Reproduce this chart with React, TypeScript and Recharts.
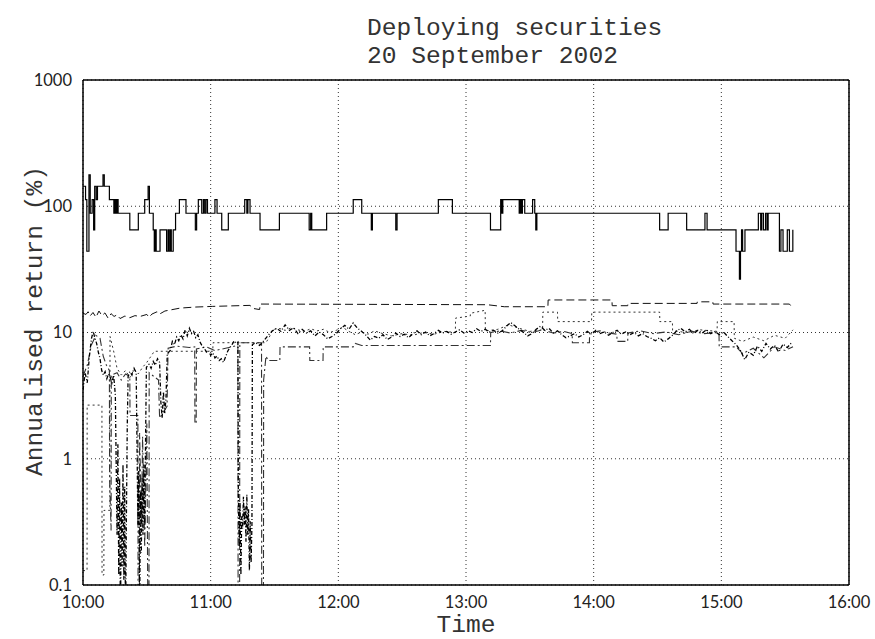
import { LineChart, Line, XAxis, YAxis, CartesianGrid } from "recharts";

// time is minutes after 10:00, values are annualised return in %
const hourTicks = [0, 60, 120, 180, 240, 300, 360];
const hourLabels = ["10:00", "11:00", "12:00", "13:00", "14:00", "15:00", "16:00"];
const halfHourTicks = [30, 90, 150, 210, 270, 330];
const decadeTicks = [0.1, 1, 10, 100, 1000];
const decadeLabels = ["0.1", "1", "10", "100", "1000"];
const minorTicks = [
  0.2, 0.3, 0.4, 0.5, 0.6, 0.7, 0.8, 0.9,
  2, 3, 4, 5, 6, 7, 8, 9,
  20, 30, 40, 50, 60, 70, 80, 90,
  200, 300, 400, 500, 600, 700, 800, 900,
];

const solidPts: [number, number][] = [
  [0, 144], [1.2, 113], [1.8, 44], [2.8, 177], [3.4, 88], [4.3, 113], [5, 65], [5.5, 144],
  [6.2, 113], [6.8, 144], [9.4, 177], [10, 144], [12.4, 113], [14.5, 88], [15, 113], [15.5, 88],
  [16, 113], [16.5, 88], [22, 65], [26, 88], [29, 113], [30.6, 144], [31.2, 88], [33, 65],
  [33.5, 44], [34, 65], [34.4, 44], [36.2, 65], [39.3, 44], [40, 65], [40.4, 44], [41, 65],
  [41.5, 44], [42.4, 65], [43.5, 88], [45.3, 113], [48.4, 88], [52.8, 65], [53.4, 88], [54.2, 113],
  [55.8, 88], [56.6, 113], [57.2, 88], [57.8, 113], [58.5, 88], [62, 113], [63, 88], [65.2, 65],
  [68.3, 88], [76, 113], [77, 88], [77.5, 113], [78.5, 88], [83.2, 65], [92.3, 88], [106.3, 65],
  [107, 88], [107.5, 65], [114.5, 88], [127, 113], [131, 88], [135.5, 65], [136, 88], [147, 65],
  [147.6, 88], [167, 113], [173.6, 88], [191.5, 65], [196.3, 113], [196.8, 88], [197.3, 113], [205, 88],
  [205.5, 113], [206, 88], [206.5, 113], [207.6, 88], [211.3, 113], [212.3, 88], [212.8, 65], [213.3, 88],
  [271, 65], [275, 88], [283.7, 65], [292.3, 88], [293.3, 65], [306.9, 44], [308.5, 26.5], [309, 44],
  [309.5, 65], [310, 44], [311.1, 65], [317.4, 88], [318.5, 65], [319, 88], [319.8, 65], [320.8, 88],
  [321.5, 65], [322, 88], [327.3, 44], [328, 65], [329, 44], [331, 65], [332, 44], [333.6, 65],
];

const longDashPts: [number, number][] = [
  [0, 14.2], [1.4, 13.9], [2.4, 14.6], [3.3, 13.5], [4.7, 14.4], [6.1, 13.2], [7.5, 14.8], [8.9, 13.6],
  [10.3, 14.3], [11.8, 13.0], [13.2, 14.1], [14.6, 13.4], [16, 13.8], [17.4, 12.9], [19.7, 13.5], [22, 13.1],
  [24.4, 13.6], [26.8, 13.4], [30, 13.9], [31, 13.2], [32.4, 14.0], [34.8, 14.6], [36, 14.0], [38.5, 14.8],
  [45.6, 15.6], [52.6, 15.9], [61, 16.1], [78.5, 16.4], [80, 15.5], [83, 15.2], [83.3, 16.8], [190, 16.6],
  [198, 16.0], [218.5, 16.0], [218.6, 18.1], [248.6, 18.1], [248.7, 16.3], [256, 16.3], [256.1, 17.0], [288.6, 17.0],
  [288.7, 17.5], [296, 17.5], [296.1, 16.8], [332, 16.8], [333.7, 15.5],
];

const noisyPts: [number, number][] = [
  [0, 3.5], [1, 4.8], [2, 4.0], [3, 6.5], [4, 9.0], [4.8, 10.2], [5.6, 9.0], [6.4, 8.2],
  [7.2, 7.0], [8, 6.2], [8.8, 5.0], [9.6, 4.6], [10.4, 4.9], [11.2, 4.3], [12, 4.7], [12.8, 4.4],
  [13.6, 4.0], [14.4, 4.6], [15.2, 3.2], [15.6, 0.9], [16, 0.25], [16.4, 1.3], [16.8, 0.12], [17.2, 0.7],
  [17.6, 0.05], [18, 0.45], [18.4, 0.14], [18.8, 0.9], [19.2, 0.11], [19.6, 0.6], [20, 0.05], [20.4, 0.35],
  [20.8, 1.8], [21.2, 4.5], [22, 4.9], [23, 4.6], [24, 5.2], [25, 4.8], [25.4, 1.2], [25.8, 0.3],
  [26.2, 0.8], [26.6, 0.05], [27, 0.55], [27.4, 0.18], [27.8, 0.7], [28.2, 0.25], [28.6, 0.9], [29, 0.3],
  [29.4, 1.4], [29.8, 5.3], [31, 5.6], [32, 5.2], [33, 5.9], [34, 5.5], [35, 6.2], [36, 5.8],
  [36.6, 2.8], [37.2, 2.1], [37.8, 3.4], [38.4, 2.3], [39, 3.0], [39.6, 6.8], [41, 7.2], [42, 8.5],
  [43, 8.0], [44, 9.2], [45, 8.6], [46, 9.6], [47, 8.9], [48, 10.5], [49, 9.4], [50, 10.8],
  [51, 9.8], [52, 10.2], [53, 9.1], [54, 9.6], [55, 8.4], [56, 7.8], [57, 7.5], [58, 7.0],
  [59, 7.2], [60, 6.6], [61, 6.9], [62, 6.3], [63, 6.5], [64, 6.0], [65, 6.2], [66, 5.8],
  [67, 6.4], [68, 7.1], [69, 7.6], [70, 8.0], [71, 8.6], [72, 8.2], [72.8, 8.4], [73, 0.55],
  [73.4, 0.2], [73.8, 0.45], [74.2, 0.12], [74.6, 0.35], [75, 0.28], [75.4, 0.5], [75.8, 0.3], [76.2, 0.42],
  [76.6, 0.22], [77, 0.52], [77.4, 0.25], [77.8, 0.4], [78.2, 0.13], [78.6, 0.32], [79, 0.15], [79.4, 0.3],
  [79.6, 8.0], [81, 8.3], [83, 7.9], [85, 8.6], [87, 9.5], [89, 10.3], [91, 10.8], [93, 10.2],
  [95, 11.5], [97, 10.4], [99, 10.9], [101, 9.8], [103, 10.6], [105, 9.9], [107, 10.3], [109, 9.4],
  [111, 10.1], [113, 9.6], [115, 8.9], [117, 9.3], [119, 9.8], [121, 10.7], [123, 11.4], [125, 10.6],
  [127, 11.9], [129, 10.8], [131, 10.2], [133, 9.5], [135, 8.7], [137, 9.3], [139, 9.0], [141, 9.6],
  [143, 8.8], [145, 9.2], [147, 9.9], [149, 9.3], [151, 9.7], [153, 9.1], [155, 9.8], [157, 10.3],
  [159, 9.6], [161, 10.1], [163, 9.4], [165, 9.8], [167, 10.4], [169, 9.9], [171, 10.2], [173, 9.7],
  [175, 10.1], [177, 10.5], [179, 9.9], [181, 10.3], [183, 10.0], [185, 10.7], [187, 10.2], [189, 10.6],
  [191, 10.1], [193, 10.4], [195, 9.9], [197, 10.3], [199, 11.2], [201, 12.0], [203, 11.3], [205, 10.6],
  [207, 10.0], [209, 9.4], [211, 9.8], [213, 10.6], [215, 11.2], [217, 10.4], [219, 10.8], [221, 9.9],
  [223, 10.3], [225, 9.6], [227, 9.1], [229, 9.4], [231, 9.8], [233, 9.2], [235, 9.6], [237, 10.2],
  [239, 9.7], [241, 10.4], [243, 9.8], [245, 10.1], [247, 9.5], [249, 10.0], [251, 10.4], [253, 9.7],
  [255, 10.1], [257, 9.6], [259, 10.0], [261, 9.4], [263, 9.8], [265, 9.3], [267, 9.0], [269, 8.6],
  [271, 9.1], [273, 8.4], [275, 8.9], [277, 9.5], [279, 10.3], [281, 10.8], [283, 10.1], [285, 10.6],
  [287, 9.8], [289, 10.4], [291, 9.9], [293, 10.5], [295, 9.8], [297, 10.2], [299, 9.6], [301, 10.1],
  [303, 9.3], [305, 8.6], [307, 8.0], [309, 7.2], [311, 6.1], [313, 7.0], [315, 6.6], [317, 7.8],
  [319, 7.1], [321, 8.2], [323, 7.4], [325, 7.9], [327, 7.0], [329, 8.1], [331, 7.6], [333, 8.3],
];

const dashDotPts: [number, number][] = [
  [0, 4.5], [2, 5.5], [4, 8.0], [6, 9.5], [8, 9.0], [9.5, 6.5], [11, 5.5], [12.4, 5.0],
  [12.5, 0.68], [13.2, 0.27], [13.3, 4.6], [16, 4.8], [18, 4.2], [20, 4.7], [22, 4.5], [22.1, 2.2],
  [25.8, 2.2], [25.9, 0.05], [26.5, 0.05], [26.6, 1.6], [27.5, 0.3], [28, 1.5], [29, 0.2], [30, 1.9],
  [30.5, 0.05], [31, 0.05], [31.1, 4.8], [35.5, 4.2], [36, 2.1], [39.5, 2.6], [40, 7.5], [44, 7.8],
  [50, 7.6], [52.5, 7.7], [52.6, 1.9], [53.2, 1.9], [53.3, 7.4], [58, 7.7], [62, 7.2], [67, 7.5],
  [72.8, 7.9], [72.9, 0.05], [73.6, 0.05], [73.7, 8.3], [83.9, 8.3], [84, 0.05], [84.8, 0.05], [84.9, 4.2],
  [86, 6.5], [87, 6.0], [92.5, 6.0], [92.6, 7.7], [106.5, 7.7], [106.6, 6.0], [112.8, 6.0], [112.9, 7.7],
  [127, 7.7], [128, 8.2], [131, 7.9], [191.5, 7.9], [191.6, 10.0], [196, 10.3], [201, 9.9], [206, 10.4],
  [211, 10.0], [216, 10.5], [221, 9.9], [226, 10.2], [229.9, 9.8], [230, 8.3], [238, 8.3], [238.1, 10.0],
  [243, 10.3], [247, 9.9], [250.9, 9.7], [251, 8.5], [256, 8.5], [256.1, 9.9], [262, 10.3], [268, 9.8],
  [274, 10.1], [280, 9.6], [286, 10.2], [292, 9.8], [298.9, 10.0], [299, 7.7], [307, 7.7], [310, 6.8],
  [315, 7.5], [320, 6.3], [325, 7.7], [330, 7.2], [333.7, 7.7],
];

const shortDashPts: [number, number][] = [
  [0, 0.13], [1.9, 0.13], [1.95, 2.66], [8.9, 2.66], [8.95, 0.12], [9.8, 0.12], [9.85, 0.39], [12.6, 0.39],
  [12.7, 9.3], [13.5, 8.2], [14.5, 7.0], [16, 5.2], [18, 4.6], [20, 5.0], [22, 4.4], [24, 5.1],
  [26, 4.7], [28, 5.3], [30, 5.8], [32, 6.5], [33.5, 7.1], [61, 7.1], [61.1, 8.3], [86, 8.3],
  [88, 9.5], [89, 10.5], [92, 10.8], [95, 10.4], [98, 10.9], [101, 10.5], [104, 10.2], [107, 10.7],
  [110, 10.3], [113, 10.6], [116, 10.0], [119, 10.4], [122, 11.0], [125, 10.2], [128, 9.6], [131, 10.1],
  [134, 9.7], [137, 10.3], [140, 9.9], [145, 9.4], [150, 9.8], [155, 9.5], [160, 10.0], [165, 9.7],
  [170, 10.2], [175, 10.0], [175.1, 13.0], [182, 13.5], [182.1, 14.2], [189, 15.0], [189.1, 10.3], [195, 10.6],
  [200, 11.5], [205, 10.8], [210, 10.2], [216, 10.5], [216.1, 14.5], [223, 14.5], [223.1, 12.2], [239, 12.2],
  [239.1, 14.5], [271, 14.5], [271.1, 12.2], [277, 12.2], [277.1, 10.4], [283, 10.0], [290, 10.5], [298, 10.2],
  [298.1, 12.2], [306, 12.2], [306.1, 9.0], [310, 8.5], [315, 9.2], [320, 8.6], [325, 9.5], [330, 9.0],
  [333.7, 10.5],
];

const toRows = (pts: [number, number][]) => pts.map(([t, v]) => ({ t, v }));

const tickFont = { fontFamily: "Lato, 'DejaVu Sans', sans-serif", fontSize: 16.5, fill: "#222" };
const monoFont = "'Liberation Mono', 'DejaVu Sans Mono', monospace";
const frame = { stroke: "#000", strokeWidth: 1.5 };

const App = () => {
  return (
    <div style={{ position: "absolute", left: 0, top: 0, width: 875, height: 639, background: "#fff" }}>
      <LineChart width={875} height={639} margin={{ top: 80, right: 26, bottom: 24, left: 23 }}>
        <CartesianGrid xAxisId="x" yAxisId="y" stroke="#333" strokeDasharray="1 3" />

        {/* labelled axes */}
        <XAxis
          xAxisId="x"
          type="number"
          dataKey="t"
          domain={[0, 360]}
          ticks={hourTicks}
          interval={0}
          allowDataOverflow
          tickFormatter={(t: number) => hourLabels[hourTicks.indexOf(t)]}
          axisLine={false}
          tickLine={false}
          tickSize={6}
          tickMargin={5}
          height={30}
          tick={tickFont}
        />
        <YAxis
          yAxisId="y"
          scale="log"
          domain={[0.1, 1000]}
          ticks={decadeTicks}
          interval={0}
          allowDataOverflow
          tickFormatter={(v: number) => decadeLabels[decadeTicks.indexOf(v)]}
          axisLine={false}
          tickLine={false}
          tickSize={6}
          tickMargin={5}
          width={60}
          tick={tickFont}
        />

        {/* inward ticks and frame */}
        <XAxis xAxisId="xb" orientation="bottom" mirror type="number" dataKey="t" domain={[0, 360]} ticks={hourTicks} interval={0} allowDataOverflow tick={false} tickSize={7} axisLine={frame} tickLine={{ stroke: "#000" }} />
        <XAxis xAxisId="xbm" orientation="bottom" mirror type="number" dataKey="t" domain={[0, 360]} ticks={halfHourTicks} interval={0} allowDataOverflow tick={false} tickSize={4} axisLine={false} tickLine={{ stroke: "#000" }} />
        <XAxis xAxisId="xt" orientation="top" mirror type="number" dataKey="t" domain={[0, 360]} ticks={hourTicks} interval={0} allowDataOverflow tick={false} tickSize={7} axisLine={frame} tickLine={{ stroke: "#000" }} />
        <XAxis xAxisId="xtm" orientation="top" mirror type="number" dataKey="t" domain={[0, 360]} ticks={halfHourTicks} interval={0} allowDataOverflow tick={false} tickSize={4} axisLine={false} tickLine={{ stroke: "#000" }} />
        <YAxis yAxisId="yl" orientation="left" mirror scale="log" domain={[0.1, 1000]} ticks={decadeTicks} interval={0} allowDataOverflow tick={false} tickSize={7} axisLine={frame} tickLine={{ stroke: "#000" }} />
        <YAxis yAxisId="ylm" orientation="left" mirror scale="log" domain={[0.1, 1000]} ticks={minorTicks} interval={0} allowDataOverflow tick={false} tickSize={4} axisLine={false} tickLine={{ stroke: "#000" }} />
        <YAxis yAxisId="yr" orientation="right" mirror scale="log" domain={[0.1, 1000]} ticks={decadeTicks} interval={0} allowDataOverflow tick={false} tickSize={7} axisLine={frame} tickLine={{ stroke: "#000" }} />
        <YAxis yAxisId="yrm" orientation="right" mirror scale="log" domain={[0.1, 1000]} ticks={minorTicks} interval={0} allowDataOverflow tick={false} tickSize={4} axisLine={false} tickLine={{ stroke: "#000" }} />

        <Line xAxisId="x" yAxisId="y" data={toRows(shortDashPts)} dataKey="v" type="linear" stroke="#333" strokeWidth={1} strokeDasharray="2 3" dot={false} isAnimationActive={false} />
        <Line xAxisId="x" yAxisId="y" data={toRows(dashDotPts)} dataKey="v" type="linear" stroke="#333" strokeWidth={1.1} strokeDasharray="8 3 2 3" dot={false} isAnimationActive={false} />
        <Line xAxisId="x" yAxisId="y" data={toRows(noisyPts)} dataKey="v" type="linear" stroke="#000" strokeWidth={1.3} strokeDasharray="4 2 1 2" dot={false} isAnimationActive={false} />
        <Line xAxisId="x" yAxisId="y" data={toRows(longDashPts)} dataKey="v" type="linear" stroke="#111" strokeWidth={1} strokeDasharray="8 4" dot={false} isAnimationActive={false} />
        <Line xAxisId="x" yAxisId="y" data={toRows(solidPts)} dataKey="v" type="stepAfter" stroke="#000" strokeWidth={1.2} dot={false} isAnimationActive={false} />
      </LineChart>

      <svg width={875} height={639} style={{ position: "absolute", left: 0, top: 0, pointerEvents: "none" }}>
        <text x={367} y={35} fontFamily={monoFont} fontSize={24.6} fill="#333">Deploying securities</text>
        <text x={367} y={63} fontFamily={monoFont} fontSize={24.6} fill="#333">20 September 2002</text>
        <text x={466} y={632} fontFamily={monoFont} fontSize={24.6} fill="#333" textAnchor="middle">Time</text>
        <text x={42} y={321} fontFamily={monoFont} fontSize={24.6} fill="#333" textAnchor="middle" transform="rotate(-90 42 321)">Annualised return (%)</text>
      </svg>
    </div>
  );
};

export default App;
